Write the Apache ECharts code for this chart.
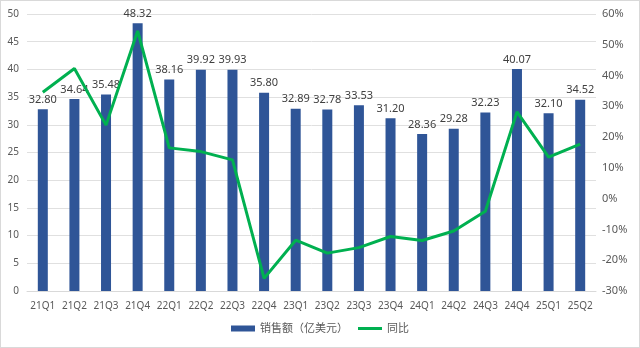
<!DOCTYPE html>
<html><head><meta charset="utf-8">
<script src="https://cdn.jsdelivr.net/npm/echarts@6/dist/echarts.min.js"></script>
<style>html,body{margin:0;padding:0;background:#fff}#c{width:640px;height:348px;box-sizing:border-box;border:1px solid #D9D9D9}</style>
</head><body><div id="c"></div>
<script>
const categories = ['21Q1','21Q2','21Q3','21Q4','22Q1','22Q2','22Q3','22Q4','23Q1','23Q2','23Q3','23Q4','24Q1','24Q2','24Q3','24Q4','25Q1','25Q2'];
const sales = [32.80,34.64,35.48,48.32,38.16,39.92,39.93,35.80,32.89,32.78,33.53,31.20,28.36,29.28,32.23,40.07,32.10,34.52];
const yoy = [34.6,42.3,23.9,54.5,16.5,15.3,12.6,-25.9,-13.5,-17.7,-15.9,-12.3,-13.6,-10.5,-4.1,28.2,13.5,17.7];
const leftTicks = {min:0,max:50,interval:5};
const rightTicks = {min:-30,max:60,interval:10};
const FONT = "'Noto Sans','Noto Sans CJK SC',sans-serif";
const chart = echarts.init(document.getElementById('c'), null, {renderer:'canvas'});
chart.setOption({
  animation:false,
  textStyle:{fontFamily:FONT},
  grid:{left:26,right:43,top:13,bottom:56,containLabel:false},
  legend:{bottom:8,left:'center',itemGap:10,itemWidth:24,itemHeight:6,
    textStyle:{color:'#595959',fontSize:11,fontFamily:FONT},
    data:[{name:'销售额（亿美元）',icon:'rect'},{name:'同比',icon:'path://M0 0H24V3H0Z'}]},
  xAxis:{type:'category',data:categories,boundaryGap:true,
    axisLine:{show:true,lineStyle:{color:'#D9D9D9'}},axisTick:{show:false},
    axisLabel:{color:'#595959',fontSize:10,margin:10,interval:0}},
  yAxis:[
    {type:'value',min:leftTicks.min,max:leftTicks.max,interval:leftTicks.interval,
     axisLabel:{color:'#595959',fontSize:10,margin:8},
     splitLine:{lineStyle:{color:'#E0E0E0'}},axisLine:{show:false},axisTick:{show:false}},
    {type:'value',min:rightTicks.min,max:rightTicks.max,interval:rightTicks.interval,
     axisLabel:{color:'#595959',fontSize:11,margin:6,formatter:'{value}%'},
     splitLine:{show:false},axisLine:{show:false},axisTick:{show:false}}
  ],
  series:[
    {name:'销售额（亿美元）',type:'bar',data:sales,barWidth:10,itemStyle:{color:'#2F5597'},
     label:{show:true,position:'top',color:'#404040',fontSize:11,distance:4,formatter:p=>p.value.toFixed(2)}},
    {name:'同比',type:'line',yAxisIndex:1,data:yoy,symbol:'none',showSymbol:false,
     lineStyle:{color:'#00B050',width:3},itemStyle:{color:'#00B050'}}
  ]
});
</script></body></html>
